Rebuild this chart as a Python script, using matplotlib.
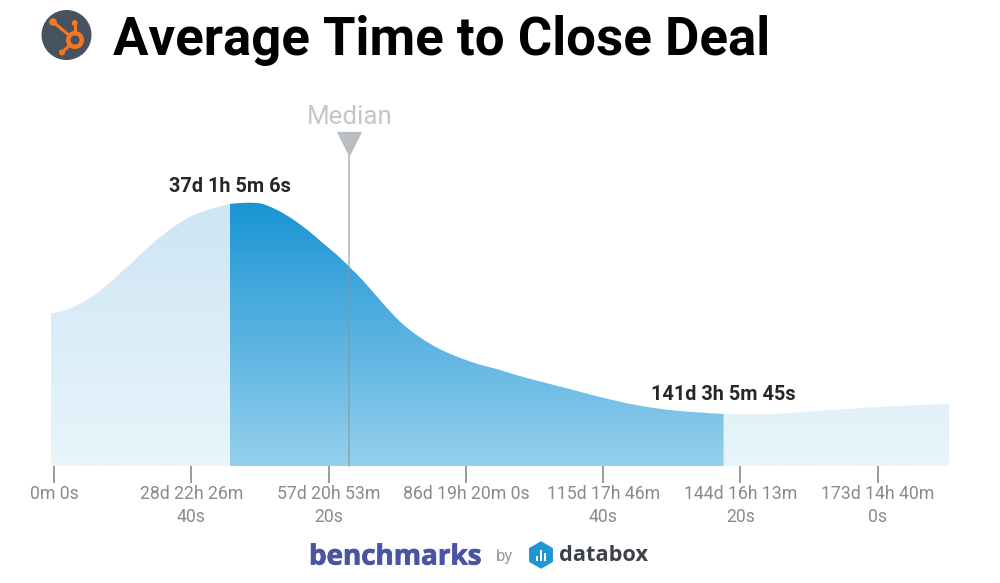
import numpy as np
import matplotlib
matplotlib.use("Agg")
import matplotlib.pyplot as plt
from matplotlib.colors import LinearSegmentedColormap
from matplotlib.patches import Circle, Polygon, Rectangle, PathPatch
from matplotlib.path import Path
import matplotlib.patheffects as pe

plt.rcParams['font.family'] = ['Roboto', 'DejaVu Sans']

# curve (days, height of the density)
days = [-0.63, 1.26, 4.07, 6.89, 9.69, 12.43, 15.32, 18.12, 20.86, 23.75, 26.55, 29.29,
        32.18, 34.98, 37.05, 40.61, 43.41, 45.52, 48.26, 51.15, 53.95, 56.69, 59.58, 62.23,
        65.12, 68.01, 70.81, 73.55, 76.44, 79.24, 81.98, 84.87, 87.67, 90.41, 93.30, 96.10,
        100.95, 108.05, 115.07, 122.02, 129.13, 136.14, 141.13, 146.68, 153.63, 160.74,
        167.76, 174.71, 181.81, 188.62]
density = [152.7, 153.3, 158.7, 165.3, 174.3, 186, 198.7, 211, 223.3, 234.3, 244, 251,
           256, 260, 262, 264, 263, 260.5, 253.3, 244.3, 234.3, 223, 211, 200,
           186, 169.3, 154.3, 141, 130.3, 122, 115, 109.3, 104.3, 100.3, 97, 93.7,
           87, 77.7, 68.7, 61, 55.5, 53.3, 52, 51, 52.3, 55, 57.3, 59.3, 61, 62]

tick_days = [0, 28.935, 57.87, 86.806, 115.741, 144.676, 173.611]
tick_labels = ['0m 0s', '28d 22h 26m\n40s', '57d 20h 53m\n20s', '86d 19h 20m 0s',
               '115d 17h 46m\n40s', '144d 16h 13m\n20s', '173d 14h 40m\n0s']

q1_day = 37.05
q3_day = 141.13
median_day = 62.23
q1_label = '37d 1h 5m 6s'
q3_label = '141d 3h 5m 45s'

W, H = 1000, 583
fig = plt.figure(figsize=(W / 100, H / 100), dpi=100)
ax = fig.add_axes([51 / W, 1 - 466 / H, 898 / W, 340 / H])
ax.set_xlim(days[0], days[-1])
ax.set_ylim(0, 340)
ax.patch.set_alpha(0)
for s in ax.spines.values():
    s.set_visible(False)
ax.set_yticks([])
ax.set_xticks(tick_days)
ax.set_xticklabels(tick_labels, fontsize=12.7, color='#8a8a8a', linespacing=1.36)
ax.tick_params(axis='x', length=12, width=1.2, color='#8a8a8a', pad=2)

x = np.array(days)
# readings are +-1px, take the jitter out before drawing
y = np.array(density)
y[1:-1] = (y[:-2] + 2 * y[1:-1] + y[2:]) / 4
top = max(density)

light = LinearSegmentedColormap.from_list('light', ['#cde5f4', '#e8f5fb'])
dark = LinearSegmentedColormap.from_list('dark', ['#1a94d4', '#95d0ed'])
grad = np.linspace(0, 1, 256).reshape(-1, 1)


def band(i0, i1, cmap):
    # gradient image clipped to the area under the curve (catmull-rom segments)
    verts = [(x[i0], 0), (x[i0], y[i0])]
    codes = [Path.MOVETO, Path.LINETO]
    for i in range(i0, i1):
        a = max(i - 1, 0)
        d = min(i + 2, len(x) - 1)
        verts += [(x[i] + (x[i + 1] - x[a]) / 6, y[i] + (y[i + 1] - y[a]) / 6),
                  (x[i + 1] - (x[d] - x[i]) / 6, y[i + 1] - (y[d] - y[i]) / 6),
                  (x[i + 1], y[i + 1])]
        codes += [Path.CURVE4] * 3
    verts += [(x[i1], 0), (x[i0], 0)]
    codes += [Path.LINETO, Path.CLOSEPOLY]
    patch = PathPatch(Path(verts, codes), transform=ax.transData, fc='none', ec='none')
    ax.add_patch(patch)
    im = ax.imshow(grad, extent=[x[i0], x[i1], 0, top], aspect='auto', cmap=cmap, vmin=0, vmax=1,
                   origin='upper', zorder=1)
    im.set_clip_path(patch)


q1_i = days.index(q1_day)
q3_i = days.index(q3_day)
band(0, q1_i, light)
band(q1_i, q3_i, dark)
band(q3_i, len(days) - 1, light)
ax.set_xlim(days[0], days[-1])
ax.set_ylim(0, 340)

# median marker
ax.plot([median_day, median_day], [0, 313], color='#8f9499', lw=1.3, alpha=0.6, zorder=3, clip_on=False)
ax.scatter([median_day], [322], marker='v', s=330, color='#b9bec2', linewidths=0, zorder=4, clip_on=False)
ax.text(median_day + 0.2, 349, 'Median', ha='center', va='center', fontsize=18.7, color='#c4c6c8', clip_on=False)

ax.text(q1_day, 279, q1_label, ha='center', va='center', fontsize=14.3, fontweight='bold', color='#25272b')
ax.text(q3_day, 71, q3_label, ha='center', va='center', fontsize=14.3, fontweight='bold', color='#25272b')

# overlay in pixels for header and footer logos
ov = fig.add_axes([0, 0, 1, 1])
ov.set_xlim(0, W)
ov.set_ylim(H, 0)
ov.axis('off')
ov.patch.set_alpha(0)

ov.text(113, 40, 'Average Time to Close Deal', fontsize=38, fontweight='bold', color='black', va='center', ha='left')

orange = '#f57722'
ov.add_patch(Circle((66.5, 35), 25, fc='#46525f', ec='none'))
ov.plot([53, 75], [22, 40], color=orange, lw=2.2, solid_capstyle='round', zorder=3)
ov.plot([74.7, 74.7], [23, 40], color=orange, lw=2.2, zorder=3)
ov.plot([62, 75], [52.5, 40], color=orange, lw=2.2, zorder=3)
for cx, cy, r in [(53, 22, 3.8), (74.7, 23, 3), (62, 52.5, 3)]:
    ov.add_patch(Circle((cx, cy), r, fc=orange, ec='none', zorder=3))
ov.add_patch(Circle((75, 40), 6.8, fc='#46525f', ec=orange, lw=3.2, zorder=4))

bm = ov.text(309, 557, 'benchmarks', fontsize=20, fontweight='bold', family=['Open Sans', 'DejaVu Sans'],
             color='#4a54a3', va='center', ha='left')
bm.set_path_effects([pe.withStroke(linewidth=0.6, foreground='#4a54a3')])
ov.text(496, 556, 'by', fontsize=12, color='#9a9a9a', va='center', ha='left')

hx, hy, hr = 541, 555, 13
ang = np.deg2rad(np.arange(30, 390, 60))
ov.add_patch(Polygon(np.column_stack([hx + hr * np.cos(ang), hy + hr * np.sin(ang)]), closed=True,
                     fc='#1f96d4', ec='#1f96d4', lw=1, joinstyle='round'))
for bx, bh in [(-5, 5), (-1, 11), (3, 8)]:
    ov.add_patch(Rectangle((hx + bx, hy + 6 - bh), 2.4, bh, fc='white', ec='none'))
ov.text(559, 555.5, 'databox', fontsize=15.7, fontweight='bold', family=['Open Sans', 'DejaVu Sans'],
        color='#3c4248', va='center', ha='left')

fig.savefig('out.png', dpi=100)
